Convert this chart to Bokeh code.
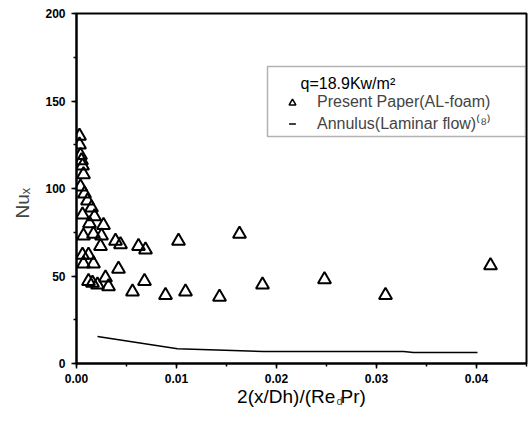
import math
from bokeh.plotting import figure
from bokeh.models import (ColumnDataSource, Legend, LegendItem, Label, SingleIntervalTicker,
                          NumeralTickFormatter, Range1d, BoxAnnotation, Title)
from bokeh.embed import file_html
from bokeh.resources import INLINE

# Present paper (AL-foam) data
foam_x = [0.0003, 0.0003, 0.0004, 0.0005, 0.0006, 0.0007, 0.0004, 0.0008, 0.0011, 0.0015,
          0.0006, 0.0018, 0.0013, 0.0027, 0.0007, 0.0017, 0.0025, 0.0024, 0.0039, 0.0044,
          0.0062, 0.0069, 0.0006, 0.0012, 0.0007, 0.0017, 0.0042, 0.0012, 0.0016, 0.0021,
          0.0029, 0.0032, 0.0056, 0.0068, 0.0089, 0.0102, 0.0109, 0.0143, 0.0163, 0.0186,
          0.0248, 0.0309, 0.0414]
foam_y = [130, 125, 119, 116, 113, 108, 101, 97, 93, 89,
          85, 84, 80, 79, 73, 74, 73, 67, 70, 68,
          67, 65, 62, 62, 57, 57, 54, 47, 46, 45,
          49, 44, 41, 47, 39, 70, 41, 38, 74, 45,
          48, 39, 56]

# Annulus (laminar flow) reference line
ann_x = [0.0021, 0.0101, 0.0187, 0.0327, 0.0337, 0.0401]
ann_y = [15.4, 8.4, 6.8, 6.8, 6.3, 6.3]

legend_title = "q=18.9Kw/m\u00b2"
label_foam = "Present Paper(AL-foam)"
label_ann = "Annulus(Laminar flow)\u207d\u2078\u207e"
x_title_main = "2(x/Dh)/(Re\u00a0Pr)"
x_title_sub = "d"
y_title = "Nu\u2093"

FONT = "Liberation Sans"

p = figure(width=528, height=420, output_backend="svg", toolbar_location=None,
           x_range=Range1d(0, 0.045), y_range=Range1d(0, 200),
           min_border_left=76, min_border_right=2, min_border_top=13, min_border_bottom=57)
p.background_fill_color = "white"
p.border_fill_color = "white"
p.outline_line_color = "black"
p.outline_line_width = 2
p.xgrid.visible = False
p.ygrid.visible = False

p.xaxis.ticker = SingleIntervalTicker(interval=0.01, num_minor_ticks=2)
p.yaxis.ticker = SingleIntervalTicker(interval=50, num_minor_ticks=2)
p.xaxis.formatter = NumeralTickFormatter(format="0.00")
for ax in (p.xaxis, p.yaxis):
    ax.axis_line_color = "black"
    ax.axis_line_width = 2
    ax.major_tick_line_width = 1.5
    ax.minor_tick_line_width = 1.5
    ax.major_tick_out = 5
    ax.major_tick_in = 0
    ax.minor_tick_out = 3
    ax.minor_tick_in = 0
    ax.major_label_text_font = FONT
    ax.major_label_text_font_style = "bold"
    ax.major_label_text_font_size = "12px"
    ax.major_label_text_color = "black"
    ax.axis_label_text_font = FONT
    ax.axis_label_text_font_style = "normal"
    ax.axis_label_text_font_size = "19px"
    ax.axis_label_text_color = "black"
p.xaxis.major_label_standoff = 5
p.yaxis.major_label_standoff = 6

p.xaxis.axis_label = x_title_main
p.xaxis.axis_label_standoff = 0

# subscript "d" as a title pulled back next to the x-axis text
p.add_layout(Title(text=x_title_sub, text_font=FONT, text_font_size="11px",
                   text_font_style="normal", align="left", offset=260,
                   vertical_align="top", standoff=-30), "below")
# y-axis title
p.add_layout(Title(text=y_title, text_font=FONT, text_font_size="19px",
                   text_font_style="normal", align="left", offset=145,
                   vertical_align="middle", standoff=18), "left")

line_r = p.line(ann_x, ann_y, line_color="black", line_width=1.5)
src = ColumnDataSource(data=dict(x=foam_x, y=foam_y))
tri_r = p.scatter("x", "y", source=src, marker="triangle", size=13, fill_color=None,
                  line_color="black", line_width=2)
# legend-only sample glyphs (not drawn in the plot area)
nan = float("nan")
leg_tri = p.scatter(x=[nan], y=[nan], marker="triangle", size=8, fill_color=None,
                    line_color="black", line_width=1.5)
leg_dash = p.scatter(x=[nan], y=[nan], marker="dash", size=7, line_color="black", line_width=1.5)

# legend frame
p.add_layout(BoxAnnotation(left=191, right=449, top=297, bottom=227,
                           left_units="screen", right_units="screen",
                           top_units="screen", bottom_units="screen",
                           fill_color="white", fill_alpha=1.0,
                           line_color="black", line_width=1.5))
p.add_layout(Label(x=224, y=280, x_units="screen", y_units="screen", text=legend_title,
                   text_align="left", text_baseline="middle",
                   text_font=FONT, text_font_size="16px", text_color="black"))

legend = Legend(items=[LegendItem(label=label_foam, renderers=[leg_tri]),
                       LegendItem(label=label_ann, renderers=[leg_dash])],
                location=(206, 229),
                label_text_font=FONT, label_text_font_size="16px",
                glyph_width=20, glyph_height=17, label_standoff=15,
                padding=0, spacing=1, margin=0,
                border_line_color=None, background_fill_alpha=0.0)
p.add_layout(legend, "center")

open("out.html", "w").write(file_html(p, INLINE))
